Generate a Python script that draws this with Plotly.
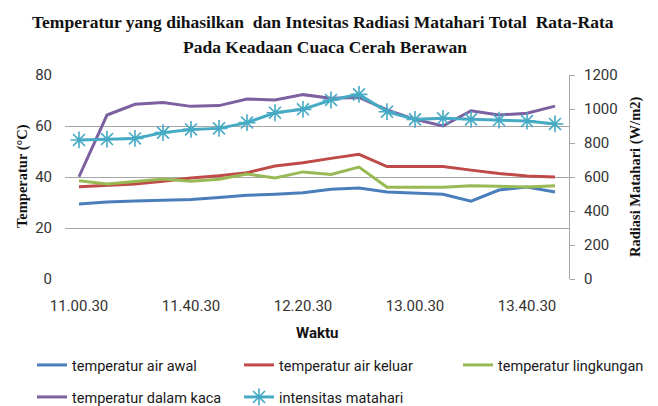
import plotly.graph_objects as go

times = ["11.00.30", "11.10.30", "11.20.30", "11.30.30", "11.40.30", "11.50.30",
         "12.00.30", "12.10.30", "12.20.30", "12.30.30", "12.40.30", "12.50.30",
         "13.00.30", "13.10.30", "13.20.30", "13.30.30", "13.40.30", "13.50.30"]
tick_labels = ["11.00.30", "11.40.30", "12.20.30", "13.00.30", "13.40.30"]

air_awal = [29.4, 30.2, 30.6, 30.8, 31.2, 32.0, 32.8, 33.2, 33.8, 35.2, 35.7, 34.1,
            33.6, 33.2, 30.5, 34.9, 36.1, 34.1]
air_keluar = [36.2, 36.7, 37.3, 38.3, 39.6, 40.5, 41.7, 44.3, 45.6, 47.3, 48.9, 44.1,
              44.1, 44.1, 42.7, 41.4, 40.4, 40.0]
lingkungan = [38.5, 37.3, 38.2, 39.2, 38.3, 39.1, 41.2, 39.6, 42.0, 41.0, 43.9, 36.0,
              36.0, 36.0, 36.6, 36.3, 36.1, 36.6]
dalam_kaca = [40.1, 64.3, 68.5, 69.2, 67.7, 68.0, 70.6, 70.2, 72.3, 70.9, 71.2, 66.3,
              62.6, 60.0, 66.0, 64.3, 65.0, 67.8]
intensitas = [818, 823, 827, 861, 880, 886, 920, 978, 998, 1053, 1086, 984,
              939, 945, 939, 935, 929, 912]

fig = go.Figure()
LW = 3
fig.add_trace(go.Scatter(x=times, y=air_awal, mode="lines", name="temperatur air awal",
                         line=dict(color="#4A7EBB", width=LW), legend="legend"))
fig.add_trace(go.Scatter(x=times, y=air_keluar, mode="lines", name="temperatur air keluar",
                         line=dict(color="#BE4B48", width=LW), legend="legend"))
fig.add_trace(go.Scatter(x=times, y=lingkungan, mode="lines", name="temperatur lingkungan",
                         line=dict(color="#98B954", width=LW), legend="legend3"))
fig.add_trace(go.Scatter(x=times, y=dalam_kaca, mode="lines", name="temperatur dalam kaca",
                         line=dict(color="#7D60A0", width=LW), legend="legend2"))
fig.add_trace(go.Scatter(x=times, y=intensitas, mode="lines+markers", name="intensitas matahari",
                         yaxis="y2",
                         line=dict(color="#46AAC5", width=LW),
                         marker=dict(symbol="asterisk-open", size=14,
                                     line=dict(color="#46AAC5", width=1.6)),
                         legend="legend2"))

tick_font = dict(family="Roboto, sans-serif", size=15, color="#333333")
leg_font = dict(family="Roboto, sans-serif", size=14.5, color="#1a1a1a")

def px_x(px):
    return (px - 65) / 504

def px_y(py):
    return (279 - py) / 204

leg_common = dict(orientation="h", xanchor="left", yanchor="middle", font=leg_font,
                  entrywidth=162, entrywidthmode="pixels", bgcolor="rgba(0,0,0,0)")

fig.update_layout(
    width=658, height=406,
    margin=dict(l=65, r=89, t=75, b=127, autoexpand=False),
    paper_bgcolor="white", plot_bgcolor="white",
    showlegend=True,
    xaxis=dict(type="category", range=[-0.5, 17.5], tickvals=tick_labels, ticktext=tick_labels,
               showgrid=False, showline=False, zeroline=False, ticks="",
               tickfont=tick_font, ticklabelstandoff=16),
    yaxis=dict(range=[0, 80], dtick=20, showgrid=True, gridcolor="#A6A6A6", gridwidth=1,
               zeroline=False, showline=False, ticks="", tickfont=tick_font,
               ticklabelstandoff=12),
    yaxis2=dict(range=[0, 1200], dtick=200, overlaying="y", side="right", showgrid=False,
                zeroline=False, showline=True, linecolor="#A6A6A6", linewidth=1,
                ticks="outside", ticklen=5, tickcolor="#A6A6A6", tickfont=tick_font,
                ticklabelstandoff=6),
    legend=dict(x=px_x(32), y=px_y(365), **leg_common),
    legend3=dict(x=px_x(458), y=px_y(365), **leg_common),
    legend2=dict(x=px_x(32), y=px_y(397), **leg_common),
    annotations=[
        dict(text="<b>Temperatur yang dihasilkan \u00a0dan Intesitas Radiasi Matahari Total \u00a0Rata-Rata</b>",
             x=px_x(323), y=px_y(22), xref="paper", yref="paper", showarrow=False,
             font=dict(family="Liberation Serif, serif", size=17.5, color="#111111"),
             xanchor="center", yanchor="middle"),
        dict(text="<b>Pada Keadaan Cuaca Cerah Berawan</b>",
             x=px_x(325), y=px_y(47), xref="paper", yref="paper", showarrow=False,
             font=dict(family="Liberation Serif, serif", size=17.5, color="#111111"),
             xanchor="center", yanchor="middle"),
        dict(text="<b>Waktu</b>", x=px_x(317), y=px_y(333), xref="paper", yref="paper",
             showarrow=False,
             font=dict(family="Roboto, sans-serif", size=15, color="#111111"),
             xanchor="center", yanchor="middle"),
        dict(text="<b>Temperatur (°C)</b>", x=px_x(22), y=px_y(176),
             xref="paper", yref="paper", showarrow=False, textangle=-90,
             font=dict(family="Liberation Serif, serif", size=14.5, color="#111111"),
             xanchor="center", yanchor="middle"),
        dict(text="<b>Radiasi Matahari (W/m2)</b>", x=px_x(635), y=px_y(177),
             xref="paper", yref="paper", showarrow=False, textangle=-90,
             font=dict(family="Liberation Serif, serif", size=14.5, color="#111111"),
             xanchor="center", yanchor="middle"),
    ],
)

fig.write_html("out.html", config={"displayModeBar": False},
               post_script="document.body.style.margin='0';document.body.style.overflow='hidden';")
